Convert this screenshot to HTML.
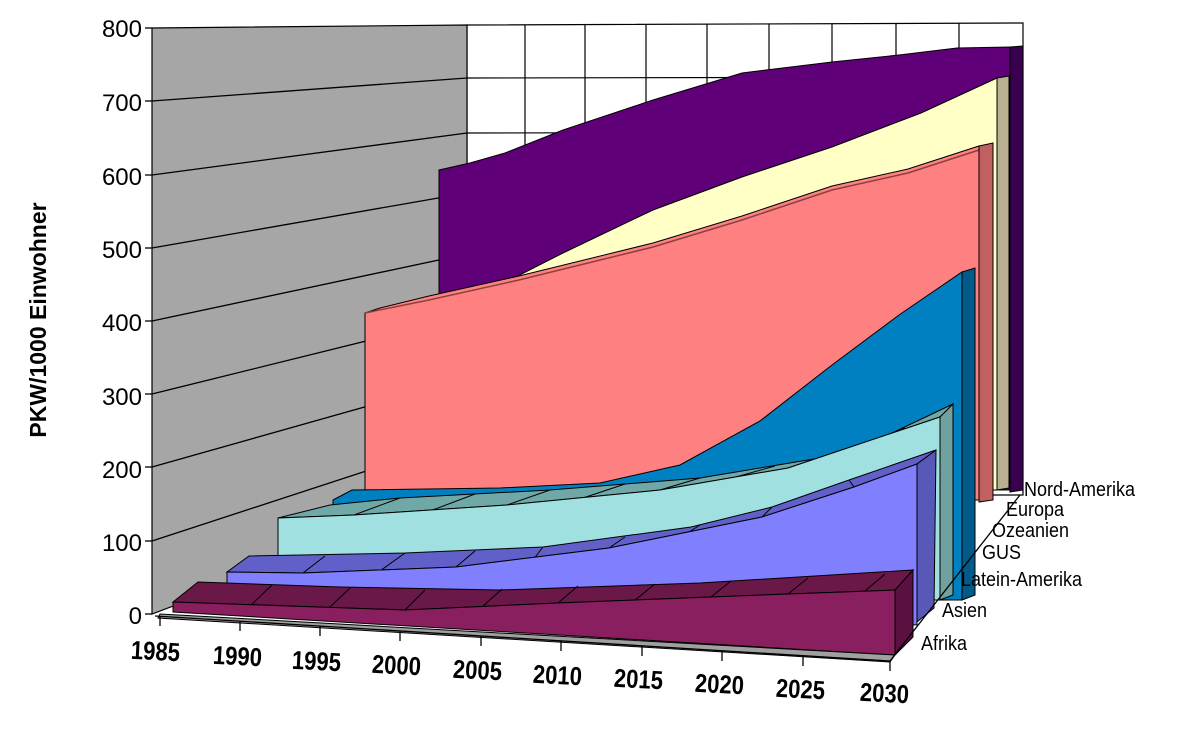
<!DOCTYPE html>
<html><head><meta charset="utf-8"><style>
body{margin:0;background:#fff;}
svg{display:block;font-family:"Liberation Sans",Arial,sans-serif;}
</style></head><body>
<svg width="1200" height="731" viewBox="0 0 1200 731" xmlns="http://www.w3.org/2000/svg">
<rect width="1200" height="731" fill="#fff"/>
<polygon points="467,25 1023,23 1023,495 467,495" fill="#fff" stroke="#000" stroke-width="1.2"/>
<g stroke="#000" stroke-width="1.2">
<line x1="525" y1="25" x2="525" y2="495"/><line x1="585" y1="25" x2="585" y2="495"/>
<line x1="646" y1="25" x2="646" y2="495"/><line x1="707" y1="24" x2="707" y2="495"/>
<line x1="769" y1="24" x2="769" y2="495"/><line x1="832" y1="24" x2="832" y2="495"/>
<line x1="896" y1="24" x2="896" y2="495"/><line x1="959" y1="23" x2="959" y2="495"/>
<line x1="467" y1="78" x2="1023" y2="77"/><line x1="467" y1="133" x2="1023" y2="132"/>
<line x1="467" y1="193" x2="1023" y2="192"/><line x1="467" y1="254" x2="1023" y2="253"/>
<line x1="467" y1="316" x2="1023" y2="315"/><line x1="467" y1="378" x2="1023" y2="377"/>
<line x1="467" y1="438" x2="1023" y2="437"/>
</g>
<polygon points="152,28 467,25 467,495 152,614" fill="#a6a6a6" stroke="#000" stroke-width="1.2"/>
<g stroke="#000" stroke-width="1.3">
<line x1="152" y1="101" x2="467" y2="78"/><line x1="152" y1="175" x2="467" y2="133"/>
<line x1="152" y1="248" x2="467" y2="193"/><line x1="152" y1="321" x2="467" y2="254"/>
<line x1="152" y1="394" x2="467" y2="316"/><line x1="152" y1="467" x2="467" y2="378"/>
<line x1="152" y1="541" x2="467" y2="438"/>
</g>
<g stroke="#000" stroke-width="1.3">
<line x1="145" y1="28" x2="152" y2="28"/><line x1="145" y1="101" x2="152" y2="101"/>
<line x1="145" y1="175" x2="152" y2="175"/><line x1="145" y1="248" x2="152" y2="248"/>
<line x1="145" y1="321" x2="152" y2="321"/><line x1="145" y1="394" x2="152" y2="394"/>
<line x1="145" y1="467" x2="152" y2="467"/><line x1="145" y1="541" x2="152" y2="541"/>
<line x1="145" y1="614" x2="152" y2="614"/>
</g>
<polygon points="439,170 470,163 505,153 563,130 653,100 742,73 832,62 899,55 957,48 1010,47 1010,490 439,490" fill="#5f0078" stroke="#000" stroke-width="1"/>
<polygon points="1010,47 1023,46 1023,490 1010,492" fill="#3a0050" stroke="#000" stroke-width="1"/>
<polygon points="400,320 492,289 563,253 653,210 742,177 832,147 921,113 997,78 997,490 400,490" fill="#ffffc6" stroke="#000" stroke-width="1"/>
<polygon points="997,78 1009,76 1009,488 997,490" fill="#b8b090" stroke="#000" stroke-width="1"/>
<polygon points="365,313 380,308 429,296 519,276 653,243 742,216 832,186 908,169 979,146 979,500 365,500" fill="#ff8080" stroke="#000" stroke-width="1"/>
<polyline points="365,313 429,300 519,280 653,247 742,220 832,190 908,173 979,150" fill="none" stroke="#8b4040" stroke-width="1.5"/>
<polygon points="979,146 993,143 993,500 979,502" fill="#c06060" stroke="#000" stroke-width="1"/>
<polygon points="333,500 352,490 500,488 600,483 680,465 760,421 832,365 899,315 962,272 962,600 333,600" fill="#0080c0" stroke="#000" stroke-width="1"/>
<polygon points="962,272 975,268 975,595 962,600" fill="#005a8a" stroke="#000" stroke-width="1"/>
<polygon points="278,518 330,505 400,498 550,490 700,478 850,453 953,404 940,417 788,468 660,490 507,505 354,515" fill="#70a8a8" stroke="#000" stroke-width="1"/>
<g stroke="#000" stroke-width="1"><line x1="354" y1="515" x2="400" y2="498"/><line x1="430" y1="511" x2="475" y2="494"/><line x1="507" y1="505" x2="550" y2="490"/><line x1="583" y1="498" x2="625" y2="484"/><line x1="660" y1="490" x2="700" y2="478"/><line x1="725" y1="480" x2="775" y2="466"/><line x1="788" y1="468" x2="850" y2="453"/><line x1="865" y1="446" x2="905" y2="428"/></g>
<polygon points="278,518 354,515 507,505 660,490 788,468 940,417 940,600 278,600" fill="#a0e0e0" stroke="#000" stroke-width="1"/>
<polygon points="940,417 953,404 953,595 940,600" fill="#70a0a0" stroke="#000" stroke-width="1"/>
<polygon points="227,572 249,556 405,553 543,547 691,527 772,507 849,480 936,450 917,464 854,487 762,517 609,548 456,567 303,573" fill="#6060c8" stroke="#000" stroke-width="1"/>
<g stroke="#000" stroke-width="1"><line x1="303" y1="573" x2="325" y2="556"/><line x1="380" y1="571" x2="405" y2="553"/><line x1="456" y1="567" x2="475" y2="551"/><line x1="533" y1="560" x2="543" y2="547"/><line x1="609" y1="548" x2="625" y2="537"/><line x1="686" y1="534" x2="700" y2="525"/><line x1="762" y1="517" x2="772" y2="507"/><line x1="854" y1="487" x2="849" y2="480"/></g>
<polygon points="227,572 303,573 456,567 609,548 762,517 854,487 917,464 917,625 227,590" fill="#8080ff" stroke="#000" stroke-width="1"/>
<polygon points="917,464 936,450 934,608 917,622" fill="#5858b8" stroke="#000" stroke-width="1"/>
<polygon points="173,602 198,582 340,587 500,590 700,583 913,570 895,590 711,597 558,603 405,610" fill="#6a1848" stroke="#000" stroke-width="1"/>
<g stroke="#000" stroke-width="1"><line x1="250" y1="606" x2="272" y2="585"/><line x1="328" y1="609" x2="350" y2="588"/><line x1="405" y1="610" x2="425" y2="590"/><line x1="482" y1="607" x2="502" y2="589"/><line x1="558" y1="603" x2="578" y2="586"/><line x1="635" y1="600" x2="655" y2="584"/><line x1="711" y1="597" x2="731" y2="581"/><line x1="788" y1="594" x2="808" y2="578"/><line x1="865" y1="591" x2="885" y2="574"/></g>
<polygon points="173,602 405,610 558,603 711,597 895,590 895,655 173,612" fill="#8a1f60" stroke="#000" stroke-width="1"/>
<polygon points="895,590 913,570 913,637 895,655" fill="#5a1040" stroke="#000" stroke-width="1"/>
<polygon points="160,614 895,655 890,662 158,618" fill="#a0a0a0" stroke="#000" stroke-width="1"/>
<line x1="155" y1="616" x2="890" y2="661" stroke="#000" stroke-width="1.3"/>
<line x1="890" y1="661" x2="1020" y2="495" stroke="#000" stroke-width="1.3"/>
<g stroke="#000" stroke-width="1.3">
<line x1="160" y1="616" x2="160" y2="626"/><line x1="240" y1="621" x2="240" y2="631"/><line x1="320" y1="626" x2="320" y2="636"/><line x1="400" y1="631" x2="400" y2="641"/><line x1="481" y1="636" x2="481" y2="646"/><line x1="561" y1="641" x2="561" y2="651"/><line x1="642" y1="646" x2="642" y2="656"/><line x1="722" y1="651" x2="722" y2="661"/><line x1="803" y1="656" x2="803" y2="666"/><line x1="890" y1="661" x2="890" y2="671"/>
</g>
<g font-size="24" text-anchor="end" fill="#000">
<text x="142" y="37">800</text><text x="142" y="111">700</text><text x="142" y="185">600</text><text x="142" y="258">500</text><text x="142" y="331">400</text><text x="142" y="405">300</text><text x="142" y="478">200</text><text x="142" y="551">100</text><text x="142" y="624">0</text>
</g>
<text transform="translate(46,320) rotate(-90)" font-size="23" font-weight="bold" text-anchor="middle">PKW/1000 Einwohner</text>
<g font-size="26" font-weight="bold" text-anchor="middle">
<text transform="translate(155,660) rotate(3) scale(0.85,1)">1985</text>
<text transform="translate(237,665) rotate(3) scale(0.85,1)">1990</text>
<text transform="translate(316,670) rotate(3) scale(0.85,1)">1995</text>
<text transform="translate(396,674) rotate(3) scale(0.85,1)">2000</text>
<text transform="translate(477,679) rotate(3) scale(0.85,1)">2005</text>
<text transform="translate(557,684) rotate(3) scale(0.85,1)">2010</text>
<text transform="translate(638,688) rotate(3) scale(0.85,1)">2015</text>
<text transform="translate(719,693) rotate(3) scale(0.85,1)">2020</text>
<text transform="translate(800,698) rotate(3) scale(0.85,1)">2025</text>
<text transform="translate(884,702) rotate(3) scale(0.85,1)">2030</text>
</g>
<g font-size="20">
<text transform="translate(921,650) scale(0.9,1)">Afrika</text>
<text transform="translate(942,617) scale(0.9,1)">Asien</text>
<text transform="translate(961,586) scale(0.9,1)">Latein-Amerika</text>
<text transform="translate(982,559) scale(0.9,1)">GUS</text>
<text transform="translate(992,537) scale(0.9,1)">Ozeanien</text>
<text transform="translate(1006,516) scale(0.9,1)">Europa</text>
<text transform="translate(1024,496) scale(0.9,1)">Nord-Amerika</text>
</g>
</svg>
</body></html>
